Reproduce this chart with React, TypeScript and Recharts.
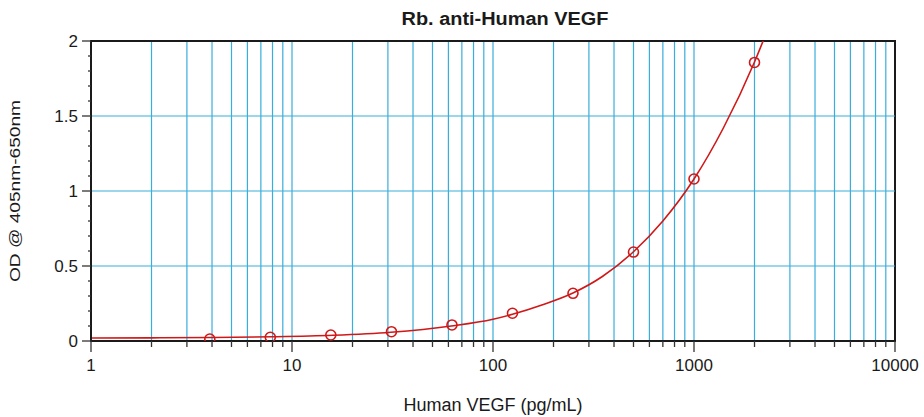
import React from 'react';
import {
  ComposedChart, Line, Scatter, XAxis, YAxis, CartesianGrid, ReferenceLine, ReferenceArea,
} from 'recharts';

// standards (pg/mL) and measured OD
const STD_CONC = [3.9, 7.8, 15.6, 31.25, 62.5, 125, 250, 500, 1000, 2000];
const STD_OD = [0.013, 0.025, 0.04, 0.062, 0.107, 0.185, 0.318, 0.593, 1.08, 1.857];

// fitted curve
const FIT_CONC = [1, 2, 4, 8, 16, 31, 62, 100, 125, 175, 250, 350, 500, 700, 1000, 1400, 2000, 2300];
const FIT_OD = [0.02, 0.021, 0.023, 0.028, 0.038, 0.058, 0.1, 0.145, 0.178, 0.24, 0.32, 0.43, 0.595, 0.8, 1.08, 1.42, 1.86, 2.06];

const X_TICKS = [
  1, 2, 3, 4, 5, 6, 7, 8, 9,
  10, 20, 30, 40, 50, 60, 70, 80, 90,
  100, 200, 300, 400, 500, 600, 700, 800, 900,
  1000, 2000, 3000, 4000, 5000, 6000, 7000, 8000, 9000,
  10000,
];
const X_LABELS = [1, 10, 100, 1000, 10000];
const Y_TICKS = [0, 0.1, 0.2, 0.3, 0.4, 0.5, 0.6, 0.7, 0.8, 0.9, 1, 1.1, 1.2, 1.3, 1.4, 1.5, 1.6, 1.7, 1.8, 1.9, 2];
const Y_LABELS = [0, 0.5, 1, 1.5, 2];
const Y_GRID = [0.5, 1, 1.5];

const TITLE = 'Rb. anti-Human VEGF';
const X_TITLE = 'Human VEGF (pg/mL)';
const Y_TITLE = 'OD @ 405nm-650nm';

const FONT = '"Liberation Sans", Arial, sans-serif';
const RED = '#d01818';
const GRID = '#3aaedb';
const INK = '#1a1a1a';

const stdData = STD_CONC.map((x, i) => ({ x, y: STD_OD[i] }));
const fitData = FIT_CONC.map((x, i) => ({ x, y: FIT_OD[i] }));

const XTick = ({ x, y, payload }: any) => {
  const major = X_LABELS.includes(payload.value);
  return (
    <g>
      <line x1={x} y1={y} x2={x} y2={y + (major ? 11 : 6)} stroke="#333" strokeWidth={1.3} />
      {major && (
        <text x={x} y={y + 30} textAnchor="middle" fontSize={17} fill={INK} fontFamily={FONT}>
          {payload.value}
        </text>
      )}
    </g>
  );
};

const YTick = ({ x, y, payload }: any) => {
  const major = Y_LABELS.some((v) => Math.abs(v - payload.value) < 1e-6);
  return (
    <g>
      <line x1={x} y1={y} x2={x - (major ? 9 : 3)} y2={y} stroke="#333" strokeWidth={1.3} />
      {major && (
        <text x={x - 13} y={y + 6} textAnchor="end" fontSize={17} fill={INK} fontFamily={FONT}>
          {payload.value}
        </text>
      )}
    </g>
  );
};

const Marker = ({ cx, cy }: any) => (
  <circle cx={cx} cy={cy} r={5} fill="none" stroke={RED} strokeWidth={1.6} />
);

export default function App() {
  return (
    <div style={{ position: 'absolute', left: 0, top: 0, width: 924, height: 417, background: '#fff' }}>
      <ComposedChart width={924} height={417} margin={{ top: 41, right: 29, bottom: 0, left: 0 }}>
        <CartesianGrid horizontal={false} stroke={GRID} strokeWidth={1.2} />
        {Y_GRID.map((v) => (
          <ReferenceLine key={v} y={v} stroke={GRID} strokeWidth={1.2} />
        ))}
        <XAxis
          dataKey="x" type="number" scale="log" domain={[1, 10000]} allowDataOverflow
          ticks={X_TICKS} tick={<XTick />} tickSize={0} tickMargin={0} interval={0}
          axisLine={{ stroke: INK, strokeWidth: 2 }} height={76}
        />
        <YAxis
          type="number" domain={[0, 2]} allowDataOverflow
          ticks={Y_TICKS} tick={<YTick />} tickSize={0} tickMargin={0} interval={0}
          axisLine={{ stroke: INK, strokeWidth: 2 }} width={91}
        />
        <ReferenceArea x1={1} x2={10000} y1={0} y2={2} fill="none" stroke={INK} strokeWidth={2} />
        <Line data={fitData} dataKey="y" type="monotone" stroke={RED} strokeWidth={1.6} dot={false}
          isAnimationActive={false} />
        <Scatter data={stdData} dataKey="y" shape={<Marker />} isAnimationActive={false} />
      </ComposedChart>
      <svg width={924} height={417} style={{ position: 'absolute', left: 0, top: 0, pointerEvents: 'none' }}>
        <text x={505} y={25} textAnchor="middle" fontSize={18} fontWeight="bold" fill={INK} fontFamily={FONT}
          textLength={207} lengthAdjust="spacingAndGlyphs">
          {TITLE}
        </text>
        <text x={493} y={411} textAnchor="middle" fontSize={18} fill={INK} fontFamily={FONT}>
          {X_TITLE}
        </text>
        <text transform="translate(20,191) rotate(-90)" textAnchor="middle" fontSize={15} fill={INK}
          fontFamily={FONT} textLength={182} lengthAdjust="spacingAndGlyphs">
          {Y_TITLE}
        </text>
      </svg>
    </div>
  );
}
